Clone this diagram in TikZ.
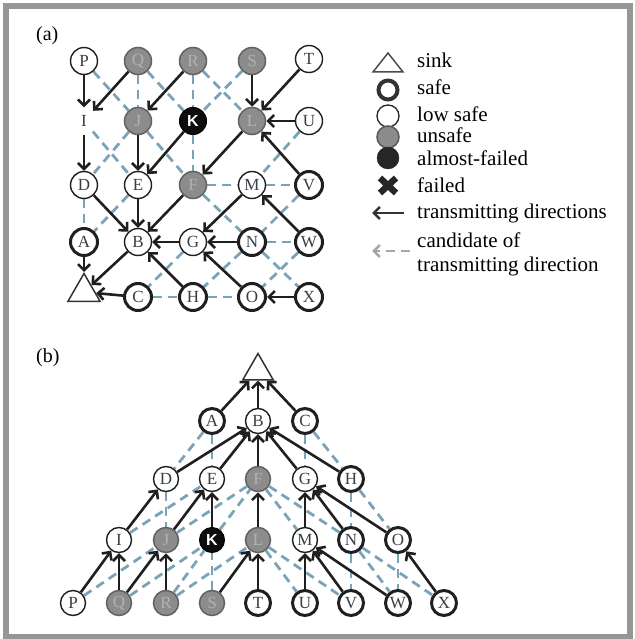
\documentclass[tikz,border=0pt]{standalone}
\usepackage{fontspec}
\setmainfont{Liberation Serif}
\newfontfamily\kfont{Liberation Sans}
\usetikzlibrary{arrows.meta,shapes.geometric}
\definecolor{candblue}{RGB}{122,163,184}
\definecolor{framegray}{RGB}{150,150,150}
\definecolor{lettergray}{RGB}{55,62,70}
\pgfdeclarelayer{bg}
\pgfsetlayers{bg,main}
\begin{document}
\begin{tikzpicture}[x=1pt,y=-1pt,
  nsize/.style={minimum size=27pt},
  nd/.style={circle, inner sep=0pt, nsize, font=\fontsize{17}{17}\selectfont, text=lettergray},
  safe/.style={nd, draw=black!88, line width=3pt, fill=white},
  low/.style={nd, draw=black!88, line width=1.4pt, fill=white},
  bare/.style={nd, fill=white},
  unsafe/.style={nd, draw=black!62, line width=1.5pt, fill=black!45, text=black!30},
  almost/.style={nd, draw=black, line width=1pt, fill=black!95, text=white, font=\kfont\bfseries\fontsize{16}{16}\selectfont},
  sinkshape/.style={regular polygon, regular polygon sides=3, inner sep=0pt, draw=black!80, line width=1.5pt, fill=white},
  tx/.style={draw=black!88, line width=2.6pt, -{Straight Barb[length=6pt,width=12pt]}},
  cand/.style={draw=candblue, line width=2.8pt, dash pattern=on 9pt off 6pt},
  lbl/.style={font=\fontsize{20}{22}\selectfont, inner sep=0pt},
  lgtext/.style={font=\fontsize{21}{24}\selectfont, inner sep=0pt, anchor=base west}
]
\useasboundingbox (0,0) rectangle (634,639);
\draw[framegray, line width=6pt] (6,6) rectangle (630,637);

% ---------------- (a) ----------------
\node[lbl, anchor=base west] (la) at (36,41) {(a)};

\node[low]    (aP) at (84,61)  {P};
\node[unsafe] (aQ) at (138,61) {Q};
\node[unsafe] (aR) at (193,61) {R};
\node[unsafe] (aS) at (252,61) {S};
\node[low]    (aT) at (309,59) {T};

\node[bare]   (aI) at (84,121)  {I};
\node[unsafe] (aJ) at (138,121) {J};
\node[almost] (aK) at (193,121) {K};
\node[unsafe] (aL) at (252,121) {L};
\node[low]    (aU) at (309,121) {U};

\node[low]    (aD) at (84,185)  {D};
\node[low]    (aE) at (138,185) {E};
\node[unsafe] (aF) at (193,185) {F};
\node[low]    (aM) at (252,185) {M};
\node[safe]   (aV) at (309,185) {V};

\node[safe]   (aA) at (84,242)  {A};
\node[low]    (aB) at (138,242) {B};
\node[low]    (aG) at (193,242) {G};
\node[safe]   (aN) at (252,242) {N};
\node[safe]   (aW) at (309,242) {W};

\node[sinkshape, minimum size=37pt] (asink) at (84,292) {};
\node[safe]   (aC) at (138,297) {C};
\node[safe]   (aH) at (193,297) {H};
\node[safe]   (aO) at (252,297) {O};
\node[safe]   (aX) at (309,297) {X};

\begin{pgfonlayer}{bg}
\foreach \u/\v in {aQ/aJ,aR/aK,aK/aF,aD/aA,aF/aM,aM/aV,aN/aW,aC/aH,aH/aO,
  aP/aJ,aQ/aK,aR/aL,aS/aK,aI/aE,aJ/aD,aJ/aF,aU/aM,aE/aA,aF/aN,aV/aN,
  aG/aC,aN/aH,aN/aX,aW/aO}
  \draw[cand] (\u) -- (\v);
\end{pgfonlayer}

\foreach \u/\v in {aP/aI,aQ/aI,aI/aD,aR/aJ,aJ/aE,aK/aE,aS/aL,aT/aL,aU/aL,aV/aL,
  aL/aF,aF/aB,aD/aB,aE/aB,aG/aB,aH/aB,aM/aG,aN/aG,aO/aG,aW/aM,aX/aO,
  aA/asink,aB/asink,aC/asink}
  \draw[tx] (\u) -- (\v);

% ---------------- legend ----------------
\draw[draw=black!70, line width=1.5pt, fill=white] (373,72) -- (403,72) -- (388,53) -- cycle;
\node[lgtext] (t1) at (417,68) {sink};
\node[circle, draw=black!80, line width=4pt, minimum size=19pt, inner sep=0pt] (g2) at (388,90) {};
\node[lgtext] (t2) at (417,95) {safe};
\node[circle, draw=black!85, line width=1.3pt, fill=white, minimum size=22pt, inner sep=0pt] (g3) at (388,116) {};
\node[lgtext] (t3) at (417,122) {low safe};
\node[circle, draw=black!65, line width=1.5pt, fill=black!45, minimum size=22pt, inner sep=0pt] (g4) at (388,137) {};
\node[lgtext] (t4) at (417,143) {unsafe};
\node[circle, draw=black!85, fill=black!85, minimum size=22pt, inner sep=0pt] (g5) at (388,158) {};
\node[lgtext] (t5) at (417,166) {almost-failed};
\draw[black!85, line width=6.5pt] (380,178) -- (396,193) (380,193) -- (396,178);
\node[lgtext] (t6) at (417,192) {failed};
\coordinate (la1) at (404,213);
\coordinate (la2) at (372,213);
\draw[draw=black!80, line width=2.6pt, -{Straight Barb[length=6pt,width=12pt]}] (la1) -- (la2);
\node[lgtext] (t7) at (417,218) {transmitting directions};
\coordinate (lb1) at (410,251);
\coordinate (lb2) at (372,251);
\draw[draw=black!35, line width=2.6pt, dash pattern=on 9pt off 6pt, -{Straight Barb[length=6pt,width=12pt]}] (lb1) -- (lb2);
\node[lgtext] (t8) at (417,247) {candidate of};
\node[lgtext] (t9) at (417,271) {transmitting direction};

% ---------------- (b) ----------------
\node[lbl, anchor=base west] (lbb) at (36,362) {(b)};
\begin{scope}[nsize/.style={minimum size=25pt}]
\node[sinkshape, minimum size=35pt] (bsink) at (258,371) {};

\node[safe]   (bA) at (212,421) {A};
\node[low]    (bB) at (258,421) {B};
\node[safe]   (bC) at (305,421) {C};

\node[low]    (bD) at (166,479) {D};
\node[low]    (bE) at (212,479) {E};
\node[unsafe] (bF) at (258,479) {F};
\node[low]    (bG) at (305,479) {G};
\node[safe]   (bH) at (351,479) {H};

\node[low]    (bI) at (119,540) {I};
\node[unsafe] (bJ) at (166,540) {J};
\node[almost] (bK) at (212,540) {K};
\node[unsafe] (bL) at (258,540) {L};
\node[low]    (bM) at (305,540) {M};
\node[safe]   (bN) at (351,540) {N};
\node[safe]   (bO) at (398,540) {O};

\node[low]    (bP) at (73,603)  {P};
\node[unsafe] (bQ) at (119,603) {Q};
\node[unsafe] (bR) at (166,603) {R};
\node[unsafe] (bS) at (212,603) {S};
\node[safe]   (bT) at (258,603) {T};
\node[safe]   (bU) at (305,603) {U};
\node[safe]   (bV) at (351,603) {V};
\node[safe]   (bW) at (398,603) {W};
\node[safe]   (bX) at (444,603) {X};
\end{scope}

\begin{pgfonlayer}{bg}
\foreach \u/\v in {bA/bD,bA/bE,bC/bG,bC/bH,bD/bJ,bI/bE,bJ/bF,bK/bF,bR/bK,
  bP/bJ,bQ/bK,bR/bL,bS/bK,bF/bM,bF/bN,bN/bW,bH/bO,bH/bN,bN/bV,bN/bX,
  bO/bW,bL/bU,bL/bV}
  \draw[cand] (\u) -- (\v);
\end{pgfonlayer}

\foreach \u/\v in {bA/bsink,bB/bsink,bC/bsink,bD/bB,bE/bB,bF/bB,bG/bB,bH/bB,
  bI/bD,bJ/bE,bK/bE,bL/bF,bM/bG,bN/bG,bO/bG,bP/bI,bQ/bI,bQ/bJ,bR/bJ,
  bS/bL,bT/bL,bU/bM,bV/bM,bW/bM,bX/bO}
  \draw[tx] (\u) -- (\v);
\end{tikzpicture}
\end{document}
